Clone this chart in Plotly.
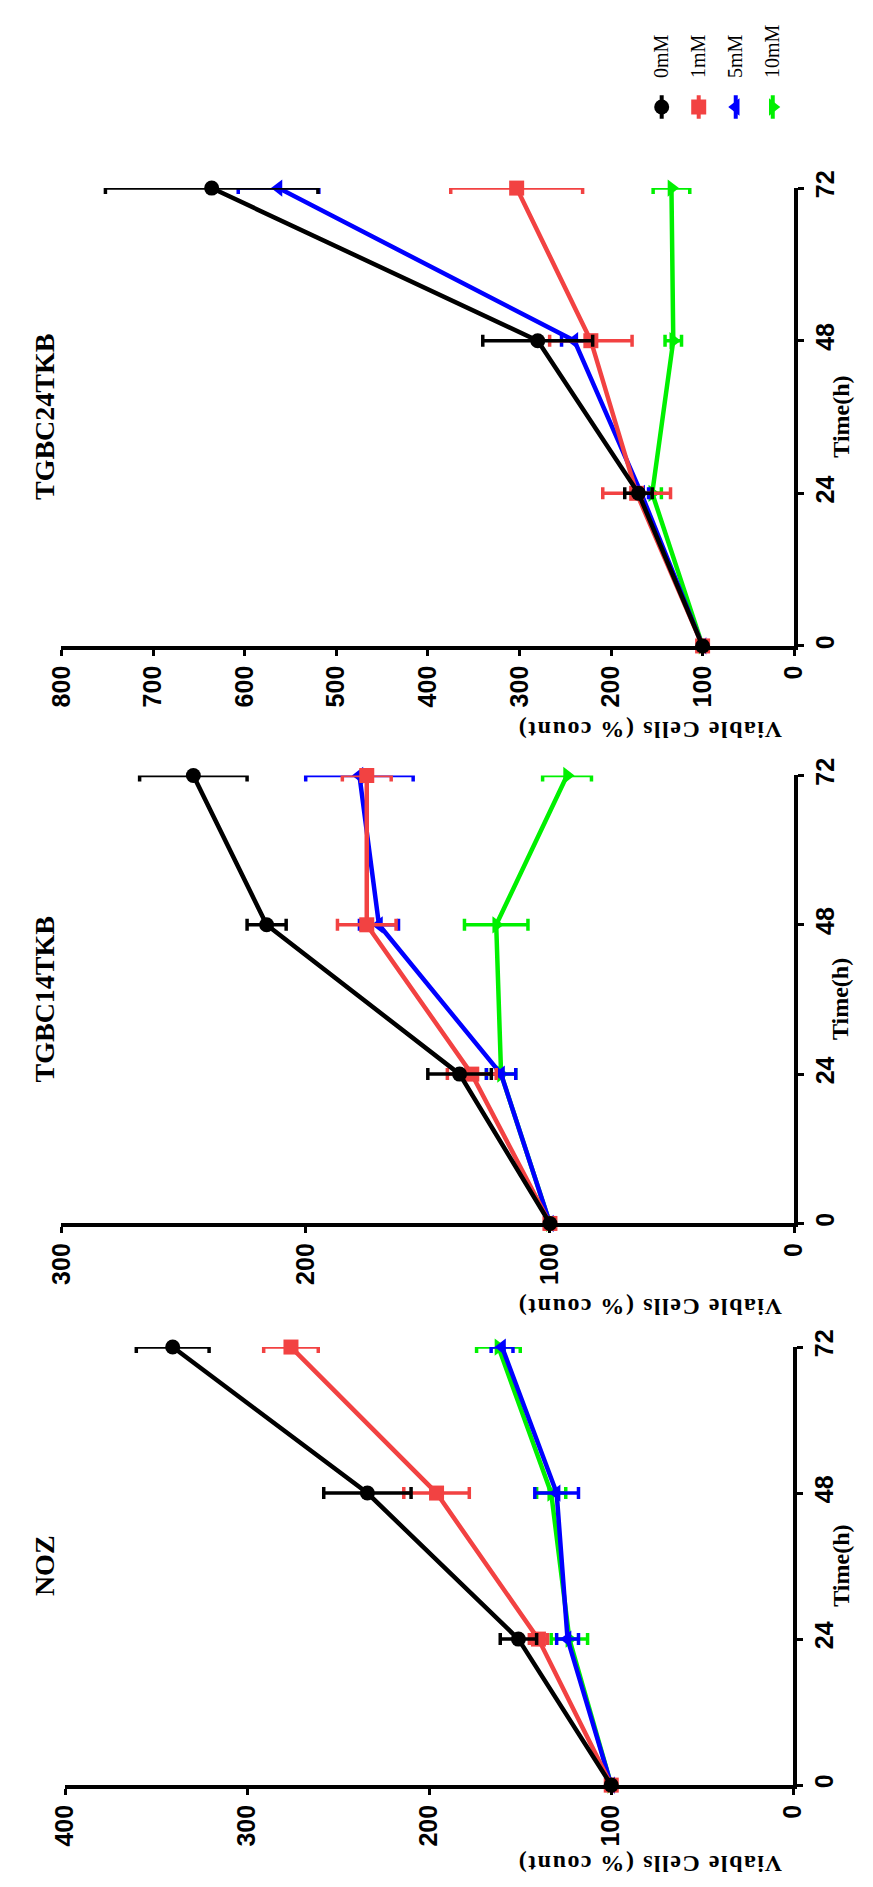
import plotly.graph_objects as go

W, H = 873, 1887

# ---------------- data ----------------
times = [0, 24, 48, 72]
series_names = ["0mM", "1mM", "5mM", "10mM"]
colors = ["#000000", "#F24242", "#0000FF", "#00F000"]
symbols = ["circle", "square", "triangle-left", "triangle-right"]

panel_titles = ["TGBC24TKB", "TGBC14TKB", "NOZ"]
value_max = [800, 300, 400]
value_ticks_step = 100
time_ticks = [0, 24, 48, 72]

# TGBC24TKB
tgbc24_0mM = [100, 170, 280, 636]
tgbc24_1mM = [100, 172, 222, 303]
tgbc24_5mM = [100, 167, 240, 563]
tgbc24_10mM = [100, 155, 132, 134]
tgbc24_0mM_err = [0, 15, 60, 116]
tgbc24_1mM_err = [0, 37, 45, 72]
tgbc24_5mM_err = [0, 8, 14, 44]
tgbc24_10mM_err = [0, 10, 9, 20]

# TGBC14TKB
tgbc14_0mM = [100, 137, 216, 246]
tgbc14_1mM = [100, 132, 175, 175]
tgbc14_5mM = [100, 120, 170, 178]
tgbc14_10mM = [100, 120, 122, 93]
tgbc14_0mM_err = [0, 13, 8, 22]
tgbc14_1mM_err = [0, 10, 12, 10]
tgbc14_5mM_err = [0, 6, 8, 22]
tgbc14_10mM_err = [0, 6, 13, 10]

# NOZ
noz_0mM = [100, 151, 234, 341]
noz_1mM = [100, 140, 196, 276]
noz_5mM = [100, 124, 130, 160]
noz_10mM = [100, 123, 133, 162]
noz_0mM_err = [0, 10, 24, 20]
noz_1mM_err = [0, 5, 18, 15]
noz_5mM_err = [0, 6, 12, 6]
noz_10mM_err = [0, 10, 8, 12]

panel_means = [
    [tgbc24_0mM, tgbc24_1mM, tgbc24_5mM, tgbc24_10mM],
    [tgbc14_0mM, tgbc14_1mM, tgbc14_5mM, tgbc14_10mM],
    [noz_0mM, noz_1mM, noz_5mM, noz_10mM],
]
panel_errs = [
    [tgbc24_0mM_err, tgbc24_1mM_err, tgbc24_5mM_err, tgbc24_10mM_err],
    [tgbc14_0mM_err, tgbc14_1mM_err, tgbc14_5mM_err, tgbc14_10mM_err],
    [noz_0mM_err, noz_1mM_err, noz_5mM_err, noz_10mM_err],
]

# ---------------- layout geometry (pixels) ----------------
# left, right, top, bottom of each (rotated) plot area
panel_box = [(48, 805, 172, 635), (48, 805, 766, 1219), (52, 804, 1344, 1787)]
value_title_y = [720, 1303, 1867]

TICK_FONT = dict(family="Liberation Sans Narrow, Arial Narrow, Liberation Sans, Arial", size=25,
                 color="black", weight="bold")
SERIF_B = dict(family="Liberation Serif, Times New Roman, serif", color="black", weight="bold")

fig = go.Figure()
layout = dict(
    width=W, height=H, margin=dict(l=0, r=0, t=0, b=0),
    paper_bgcolor="white", plot_bgcolor="white", showlegend=False,
)
annotations = []

for p in range(3):
    n = p + 1
    xa = "x" if n == 1 else f"x{n}"
    ya = "y" if n == 1 else f"y{n}"
    left, right, top, bottom = panel_box[p]
    layout["xaxis" if n == 1 else f"xaxis{n}"] = dict(
        domain=[left / W, right / W], anchor=ya,
        range=[value_max[p], 0], tickmode="linear", tick0=0, dtick=value_ticks_step,
        showline=True, linecolor="black", linewidth=3.5, ticks="outside", ticklen=6,
        tickwidth=3, tickcolor="black", tickangle=-90, tickfont=TICK_FONT,
        showgrid=False, zeroline=False, fixedrange=True,
    )
    layout["yaxis" if n == 1 else f"yaxis{n}"] = dict(
        domain=[1 - bottom / H, 1 - top / H], anchor=xa, side="right",
        range=[0, 72], tickmode="array", tickvals=time_ticks,
        showline=True, linecolor="black", linewidth=3.5, ticks="outside", ticklen=6,
        tickwidth=3, tickcolor="black", tickangle=-90, tickfont=TICK_FONT,
        showgrid=False, zeroline=False, fixedrange=True,
    )
    # draw 10mM first, 0mM last (on top)
    for s in reversed(range(4)):
        fig.add_trace(go.Scatter(
            x=panel_means[p][s], y=times, xaxis=xa, yaxis=ya,
            mode="lines+markers", name=series_names[s],
            line=dict(color=colors[s], width=4.5),
            marker=dict(symbol=symbols[s], size=15, color=colors[s]),
            error_x=dict(type="data", array=panel_errs[p][s], symmetric=True,
                         color=colors[s], thickness=3.5, width=6),
            cliponaxis=False,
        ))
    annotations.append(dict(
        text="Time(h)", xref="paper", x=853 / W, yref=ya, y=36,
        textangle=-90, showarrow=False, xanchor="center", yanchor="middle",
        font=dict(SERIF_B, size=24),
    ))
    annotations.append(dict(
        text=panel_titles[p], xref="paper", x=30 / W, yref=ya, y=36,
        textangle=-90, showarrow=False, xanchor="center", yanchor="middle",
        font=dict(SERIF_B, size=28),
    ))
    annotations.append(dict(
        text='<span style="letter-spacing:1.5px">Viable Cells (% count)</span>',
        xref="paper", x=795 / W, yref="paper", y=1 - value_title_y[p] / H,
        textangle=180, showarrow=False, xanchor="right", yanchor="middle",
        font=dict(SERIF_B, size=24),
    ))

# ---------------- legend (rotated) ----------------
layout["xaxis4"] = dict(domain=[649 / W, 802 / W], range=[-0.5, 3.5], anchor="y4",
                        visible=False, fixedrange=True)
layout["yaxis4"] = dict(domain=[1 - 105 / H, 1 - 75 / H], range=[0, 1], anchor="x4",
                        visible=False, fixedrange=True)
for s in range(4):
    fig.add_trace(go.Scatter(
        x=[s], y=[0.5], xaxis="x4", yaxis="y4", mode="markers",
        marker=dict(symbol=symbols[s], size=15, color=colors[s]),
        error_y=dict(type="data", array=[0.4], symmetric=True, color=colors[s],
                     thickness=4, width=0),
        cliponaxis=False,
    ))
    annotations.append(dict(
        text=series_names[s], xref="x4", x=s, yref="paper", y=1 - 63 / H,
        textangle=-90, showarrow=False, xanchor="center", yanchor="bottom",
        font=dict(family="Liberation Serif, Times New Roman, serif", size=20, color="black"),
    ))

layout["annotations"] = annotations
fig.update_layout(**layout)
fig.write_html("out.html")
